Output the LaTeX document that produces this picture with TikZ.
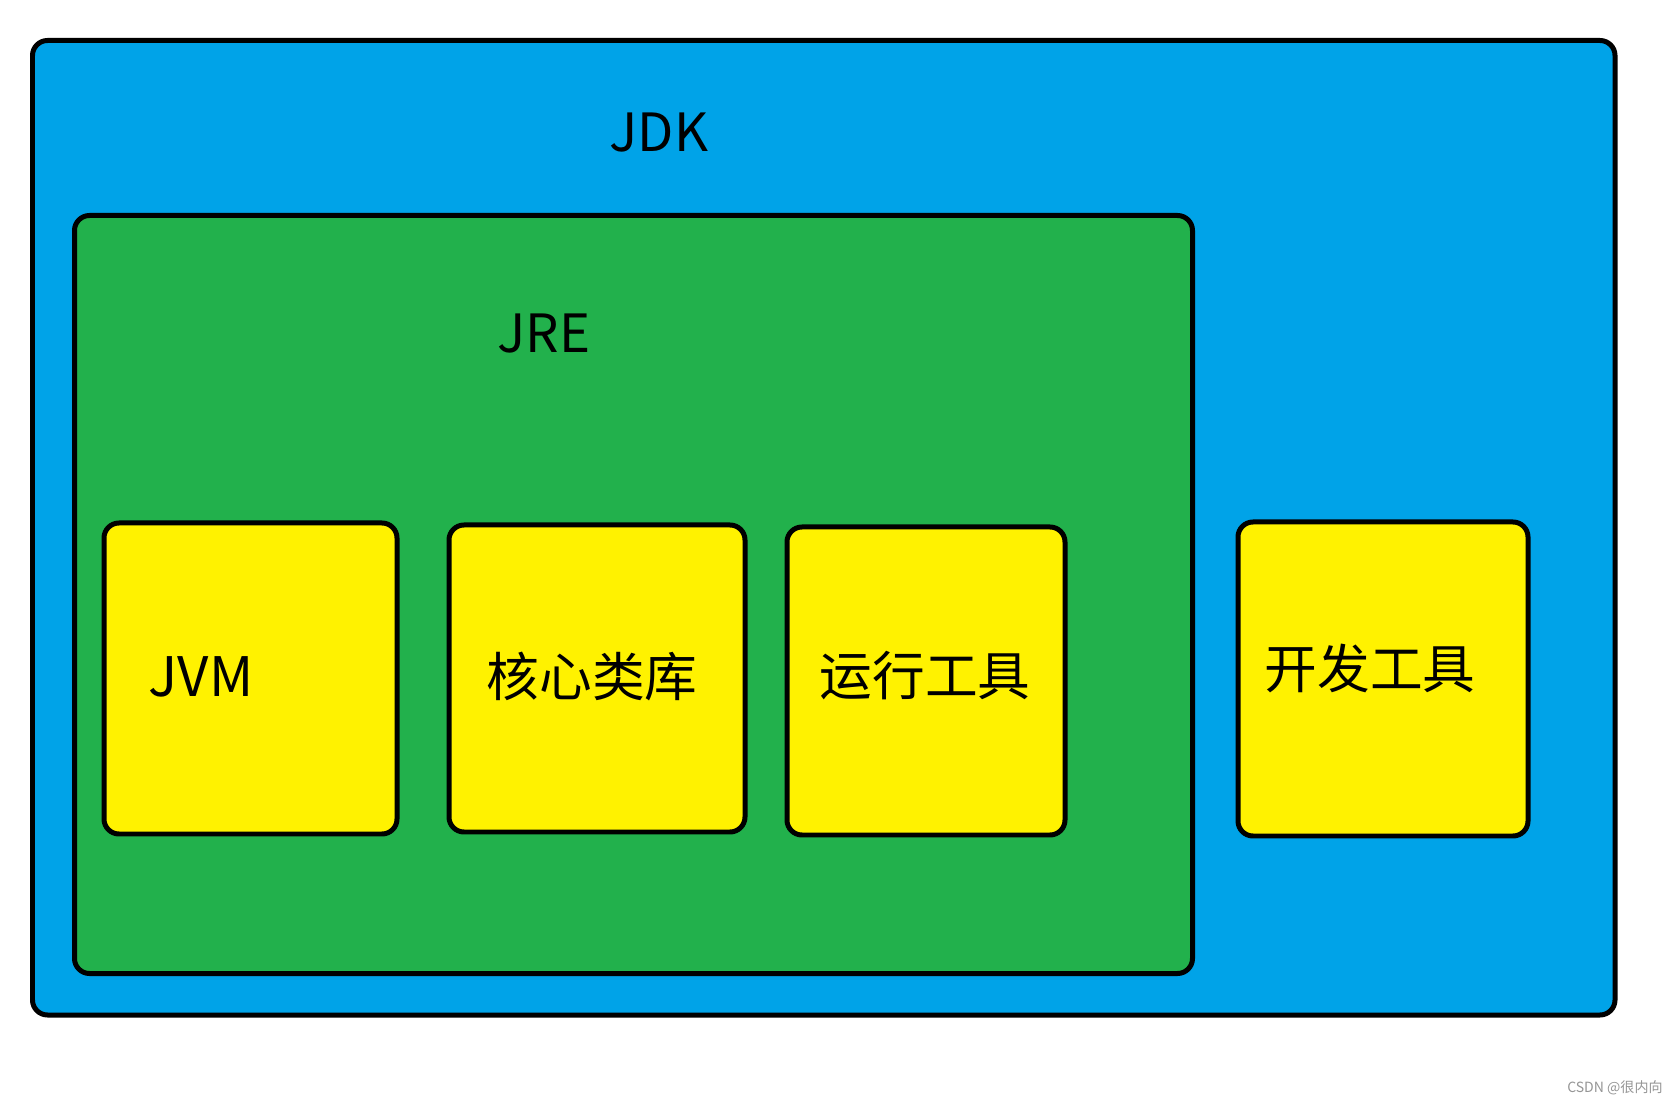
\documentclass[tikz,border=0pt]{standalone}
\usepackage{fontspec}
\setmainfont{Noto Sans CJK SC}
\usetikzlibrary{positioning,fit}
\definecolor{bleuJDK}{RGB}{0,163,232}
\definecolor{vertJRE}{RGB}{34,177,76}
\definecolor{jaune}{RGB}{255,242,0}
\definecolor{gris}{RGB}{150,150,150}

\begin{document}
\begin{tikzpicture}[x=0.02cm, y=-0.02cm,
		box/.style={rectangle, rounded corners=0.3cm, draw=black, line width=0.1cm, inner sep=0pt},
		lbl/.style={font=\fontsize{30}{36}\selectfont, anchor=base, inner sep=0pt},
		cn/.style={font=\fontsize{30}{36}\selectfont, inner sep=0pt}
		]
		\useasboundingbox (0,0) rectangle (1678,1104);
		\fill[white] (0,0) rectangle (1678,1104);
		
		\node[box, fill=bleuJDK, fit={(32.5,40.5) (1615,1015)}]   (jdk) {};
		\node[box, fill=vertJRE, fit={(74.5,215.5) (1192.5,973.5)}] (jre) {};
		\node[box, fill=jaune,   fit={(104,523) (397,834)}]        (jvm) {};
		\node[box, fill=jaune,   fit={(449,525) (745,832)}]        (lib) {};
		\node[box, fill=jaune,   fit={(787,527) (1065,835)}]       (run) {};
		\node[box, fill=jaune,   fit={(1238,522) (1528,836)}]      (dev) {};
		
		\node[lbl] (jdkT) at (659,152) {JDK};
		\node[lbl] (jreT) at (544,353) {JRE};
		\node[lbl, font=\fontsize{31}{36}\selectfont] (jvmT) at (201,697) {JVM};
		\node[cn]  (libT) at (592,676) {核心类库};
		\node[cn]  (runT) at (925,676) {运行工具};
		\node[cn]  (devT) at (1370,668) {开发工具};
		
		\node[font=\fontsize{8}{10}\selectfont, text=gris, anchor=east, inner sep=0pt] (csdn) at (1663,1088) {CSDN @很内向};
\end{tikzpicture}
\end{document}
